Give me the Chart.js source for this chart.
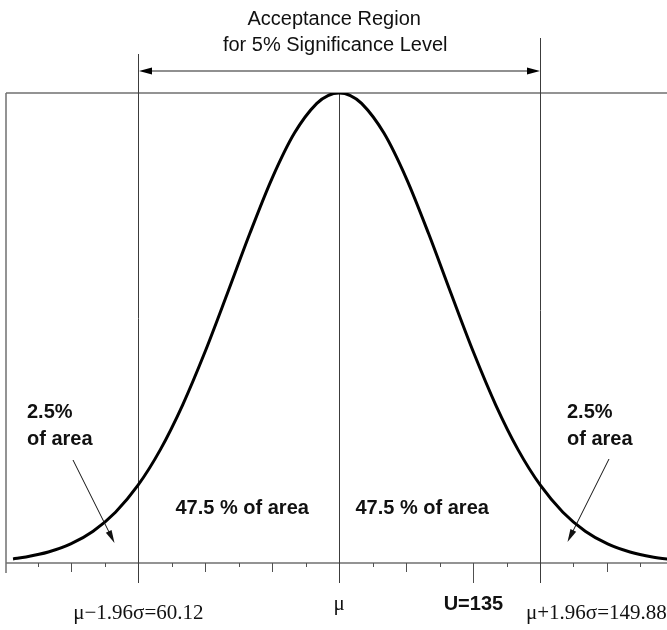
<!DOCTYPE html>
<html>
<head>
<meta charset="utf-8">
<script src="https://cdn.jsdelivr.net/npm/chart.js@4/dist/chart.umd.min.js"></script>
<style>
  html, body { margin: 0; padding: 0; background: #ffffff; }
  #wrap { width: 667px; height: 630px; }
</style>
</head>
<body>
<div id="wrap"><canvas id="chart" width="667" height="630"></canvas></div>
<script>
// Normal curve of the test statistic (height in % of the peak)
const curveX = [32.1, 35, 40, 45, 50, 55, 60, 65, 70, 75, 80, 85, 90, 95, 100, 102.5,
                105, 107.5, 110, 115, 120, 125, 130, 135, 140, 145, 150, 155, 160, 165, 170, 175, 180];
const curveY = [0.87, 1.28, 2.33, 4.06, 6.77, 10.80, 16.49, 24.07, 33.61, 44.88, 57.33, 70.04, 81.85, 91.48, 97.80, 99.45,
                100, 99.45, 97.80, 91.48, 81.85, 70.04, 57.33, 44.88, 33.61, 24.07, 16.49, 10.80, 6.77, 4.06, 2.33, 1.28, 0.67];

// Key values on the axis
const mu = 105;
const critLow = 60.12;
const critHigh = 149.88;
const uValue = 135;
const axisMin = 30.53;
const axisMax = 178.27;

// Texts
const titleLines = ['Acceptance Region', 'for 5% Significance Level'];
const centreLabel = '47.5 % of area';
const tailLabel = ['2.5%', 'of area'];
const lowLabel = 'μ\u22121.96σ=60.12';
const highLabel = 'μ+1.96σ=149.88';
const muLabel = 'μ';
const uLabel = 'U=135';

// tick step: the critical interval split into 12 equal parts
const tickStep = (critHigh - critLow) / 12;

const SANS = '"Liberation Sans", Arial, Helvetica, sans-serif';
const SERIF = '"Liberation Serif", "Times New Roman", serif';

function arrowHead(ctx, x0, y0, x1, y1, len, half) {
  const a = Math.atan2(y1 - y0, x1 - x0);
  ctx.beginPath();
  ctx.moveTo(x1, y1);
  ctx.lineTo(x1 - len * Math.cos(a) + half * Math.sin(a), y1 - len * Math.sin(a) - half * Math.cos(a));
  ctx.lineTo(x1 - len * Math.cos(a) - half * Math.sin(a), y1 - len * Math.sin(a) + half * Math.cos(a));
  ctx.closePath();
  ctx.fill();
}

function arrow(ctx, x0, y0, x1, y1, len, half) {
  const a = Math.atan2(y1 - y0, x1 - x0);
  ctx.beginPath();
  ctx.moveTo(x0, y0);
  ctx.lineTo(x1 - (len - 2) * Math.cos(a), y1 - (len - 2) * Math.sin(a));
  ctx.stroke();
  arrowHead(ctx, x0, y0, x1, y1, len, half);
}

const framePlugin = {
  id: 'frame',
  beforeDatasetsDraw(chart) {
    const { ctx, chartArea: ca, scales: { x, y } } = chart;
    const base = y.getPixelForValue(0);
    ctx.save();

    // frame: left edge, top edge and the axis line
    ctx.strokeStyle = '#707070';
    ctx.lineWidth = 1.5;
    ctx.beginPath();
    ctx.moveTo(ca.left, ca.top);
    ctx.lineTo(ca.right, ca.top);
    ctx.moveTo(ca.left, ca.top);
    ctx.lineTo(ca.left, base + 10);
    ctx.moveTo(ca.left, base);
    ctx.lineTo(ca.right, base);
    ctx.stroke();

    // ticks below the axis, longer every second one
    ctx.strokeStyle = '#505050';
    ctx.lineWidth = 1;
    for (let k = -20; k <= 20; k++) {
      const v = mu + k * tickStep;
      if (v <= axisMin + 0.5 || v > axisMax) continue;
      const px = Math.round(x.getPixelForValue(v)) + 0.5;
      const len = (k % 2 === 0) ? 9 : 4;
      ctx.beginPath();
      ctx.moveTo(px, base);
      ctx.lineTo(px, base + len);
      ctx.stroke();
    }

    // mark for the observed statistic
    const pu = Math.round(x.getPixelForValue(uValue)) + 0.5;
    ctx.beginPath();
    ctx.moveTo(pu, base);
    ctx.lineTo(pu, base + 20);
    ctx.stroke();

    // vertical lines at the critical values and the mean
    ctx.strokeStyle = '#3c3c3c';
    const pl = Math.round(x.getPixelForValue(critLow)) + 0.5;
    const pm = Math.round(x.getPixelForValue(mu)) + 0.5;
    const ph = Math.round(x.getPixelForValue(critHigh)) + 0.5;
    ctx.beginPath();
    ctx.moveTo(pl, 54); ctx.lineTo(pl, base + 20);
    ctx.moveTo(pm, ca.top); ctx.lineTo(pm, base + 20);
    ctx.moveTo(ph, 38); ctx.lineTo(ph, base + 20);
    ctx.stroke();

    // double arrow spanning the acceptance region
    ctx.fillStyle = '#000000';
    ctx.strokeStyle = '#222222';
    ctx.lineWidth = 1.2;
    const ay = 71;
    ctx.beginPath();
    ctx.moveTo(pl + 8, ay);
    ctx.lineTo(ph - 8, ay);
    ctx.stroke();
    arrowHead(ctx, pm, ay, pl + 0.5, ay, 13, 3.5);
    arrowHead(ctx, pm, ay, ph - 0.5, ay, 13, 3.5);
    ctx.restore();
  },
  afterDraw(chart) {
    const { ctx, scales: { x } } = chart;
    const pm = x.getPixelForValue(mu);
    const pl = x.getPixelForValue(critLow);
    const ph = x.getPixelForValue(critHigh);
    const pu = x.getPixelForValue(uValue);
    ctx.save();
    ctx.fillStyle = '#111111';
    ctx.textBaseline = 'middle';

    // heading above the chart
    ctx.font = '20px ' + SANS;
    ctx.textAlign = 'center';
    ctx.fillText(titleLines[0], pm - 5, 19);
    ctx.fillText(titleLines[1], pm - 4, 45);

    // area labels
    ctx.font = 'bold 20px ' + SANS;
    ctx.fillText(centreLabel, pm - 97, 508);
    ctx.fillText(centreLabel, pm + 83, 508);
    ctx.textAlign = 'left';
    ctx.fillText(tailLabel[0], 27, 412);
    ctx.fillText(tailLabel[1], 27, 439);
    ctx.fillText(tailLabel[0], 567, 412);
    ctx.fillText(tailLabel[1], 567, 439);

    // arrows from the tail labels into the tails
    ctx.strokeStyle = '#111111';
    ctx.fillStyle = '#111111';
    ctx.lineWidth = 1;
    arrow(ctx, 73, 460, 114.5, 543, 13, 3.2);
    arrow(ctx, 609, 459, 567.5, 542, 13, 3.2);

    // axis annotations
    ctx.font = '21px ' + SERIF;
    ctx.textAlign = 'center';
    ctx.fillText(lowLabel, pl, 613);
    ctx.fillText(muLabel, pm, 604);
    ctx.textAlign = 'left';
    ctx.fillText(highLabel, ph - 14, 613);
    ctx.textAlign = 'center';
    ctx.font = 'bold 20px ' + SANS;
    ctx.fillText(uLabel, pu, 604);
    ctx.restore();
  }
};

new Chart(document.getElementById('chart'), {
  type: 'line',
  data: {
    datasets: [{
      data: curveX.map((v, i) => ({ x: v, y: curveY[i] })),
      borderColor: '#000000',
      borderWidth: 3,
      pointRadius: 0,
      fill: false,
      cubicInterpolationMode: 'monotone'
    }]
  },
  options: {
    responsive: false,
    animation: false,
    events: [],
    layout: { padding: { top: 93, bottom: 67, left: 6, right: 0 } },
    plugins: { legend: { display: false }, tooltip: { enabled: false } },
    scales: {
      x: { type: 'linear', min: axisMin, max: axisMax, display: false },
      y: { type: 'linear', min: 0, max: 100, display: false }
    }
  },
  plugins: [framePlugin]
});
</script>
</body>
</html>
